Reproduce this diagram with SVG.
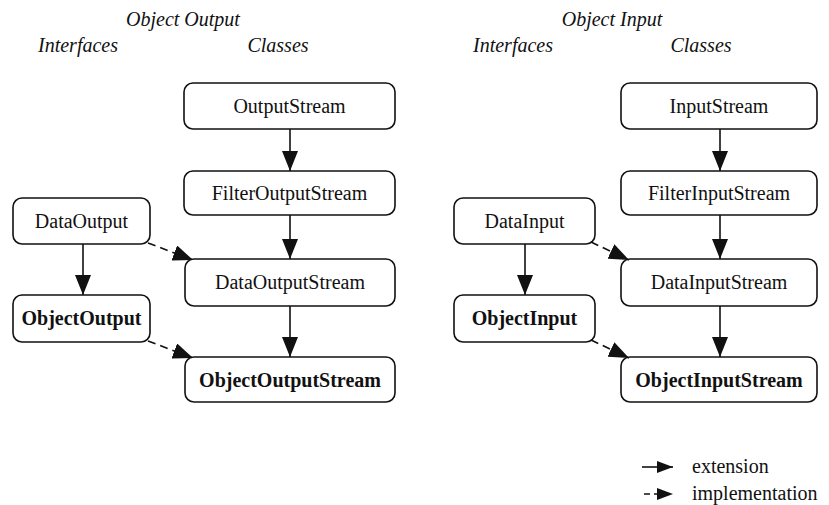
<svg xmlns="http://www.w3.org/2000/svg" width="829" height="505" viewBox="0 0 829 505">
<defs>
<style>
.box{fill:#fff;stroke:#111;stroke-width:1.6}
.t{font-family:"Liberation Serif","Times New Roman",serif;font-size:20px;fill:#111;text-anchor:middle}
.b{font-weight:bold}
.h{font-family:"Liberation Serif","Times New Roman",serif;font-size:20px;font-style:italic;fill:#111;text-anchor:middle}
.ext{stroke:#111;stroke-width:1.6;fill:none;marker-end:url(#ah)}
.imp{stroke:#111;stroke-width:1.6;fill:none;stroke-dasharray:8 5;marker-end:url(#ah)}
.s{text-anchor:start}
</style>
<marker id="ah" markerUnits="userSpaceOnUse" markerWidth="20" markerHeight="16" refX="20" refY="8" orient="auto">
<path d="M0,0 L20,8 L0,16 z" fill="#111"/>
</marker>
<marker id="ahs" markerUnits="userSpaceOnUse" markerWidth="16" markerHeight="12" refX="16" refY="6" orient="auto">
<path d="M0,0 L16,6 L0,12 z" fill="#111"/>
</marker>
</defs>
<g id="headings">
<text class="h" x="183" y="26">Object Output</text>
<text class="h" x="78" y="52">Interfaces</text>
<text class="h" x="278" y="52">Classes</text>
<text class="h" x="612" y="26">Object Input</text>
<text class="h" x="513" y="52">Interfaces</text>
<text class="h" x="701" y="52">Classes</text>
</g>
<g id="OutputStream"><rect class="box" x="184" y="83" width="211" height="46" rx="9"/><text class="t" x="289.5" y="113">OutputStream</text></g>
<g id="FilterOutputStream"><rect class="box" x="184" y="171" width="211" height="44" rx="9"/><text class="t" x="289.5" y="200">FilterOutputStream</text></g>
<g id="DataOutput"><rect class="box" x="13" y="198" width="137" height="46" rx="9"/><text class="t" x="81.5" y="228">DataOutput</text></g>
<g id="DataOutputStream"><rect class="box" x="185" y="259" width="210" height="47" rx="9"/><text class="t" x="290" y="289">DataOutputStream</text></g>
<g id="ObjectOutput"><rect class="box" x="13" y="295" width="137" height="47" rx="9"/><text class="t b" x="81.5" y="325">ObjectOutput</text></g>
<g id="ObjectOutputStream"><rect class="box" x="185" y="357" width="210" height="45" rx="9"/><text class="t b" x="290" y="387">ObjectOutputStream</text></g>
<g id="InputStream"><rect class="box" x="621" y="83" width="196" height="46" rx="9"/><text class="t" x="719" y="113">InputStream</text></g>
<g id="FilterInputStream"><rect class="box" x="621" y="171" width="196" height="44" rx="9"/><text class="t" x="719" y="200">FilterInputStream</text></g>
<g id="DataInput"><rect class="box" x="454" y="198" width="141" height="46" rx="9"/><text class="t" x="524.5" y="228">DataInput</text></g>
<g id="DataInputStream"><rect class="box" x="621" y="259" width="196" height="47" rx="9"/><text class="t" x="719" y="289">DataInputStream</text></g>
<g id="ObjectInput"><rect class="box" x="454" y="295" width="141" height="47" rx="9"/><text class="t b" x="524.5" y="325">ObjectInput</text></g>
<g id="ObjectInputStream"><rect class="box" x="621" y="357" width="196" height="45" rx="9"/><text class="t b" x="719" y="387">ObjectInputStream</text></g>
<g id="connectors">
<line class="ext" x1="290" y1="129" x2="290" y2="171"/>
<line class="ext" x1="290" y1="215" x2="290" y2="259"/>
<line class="ext" x1="290" y1="306" x2="290" y2="357"/>
<line class="ext" x1="83" y1="244" x2="83" y2="295"/>
<line class="imp" x1="148" y1="243" x2="193" y2="260"/>
<line class="imp" x1="148" y1="341" x2="193" y2="358"/>
<line class="ext" x1="720" y1="129" x2="720" y2="171"/>
<line class="ext" x1="720" y1="215" x2="720" y2="259"/>
<line class="ext" x1="720" y1="306" x2="720" y2="357"/>
<line class="ext" x1="525" y1="244" x2="525" y2="295"/>
<line class="imp" x1="591" y1="242" x2="629" y2="260"/>
<line class="imp" x1="591" y1="340" x2="629" y2="358"/>
</g>
<g id="legend">
<line x1="642" y1="467" x2="673" y2="467" stroke="#111" stroke-width="1.6" marker-end="url(#ahs)"/>
<text class="t s" x="692" y="473">extension</text>
<line x1="644" y1="494" x2="673" y2="494" stroke="#111" stroke-width="1.6" stroke-dasharray="6 4" marker-end="url(#ahs)"/>
<text class="t s" x="692" y="500">implementation</text>
</g>
</svg>
